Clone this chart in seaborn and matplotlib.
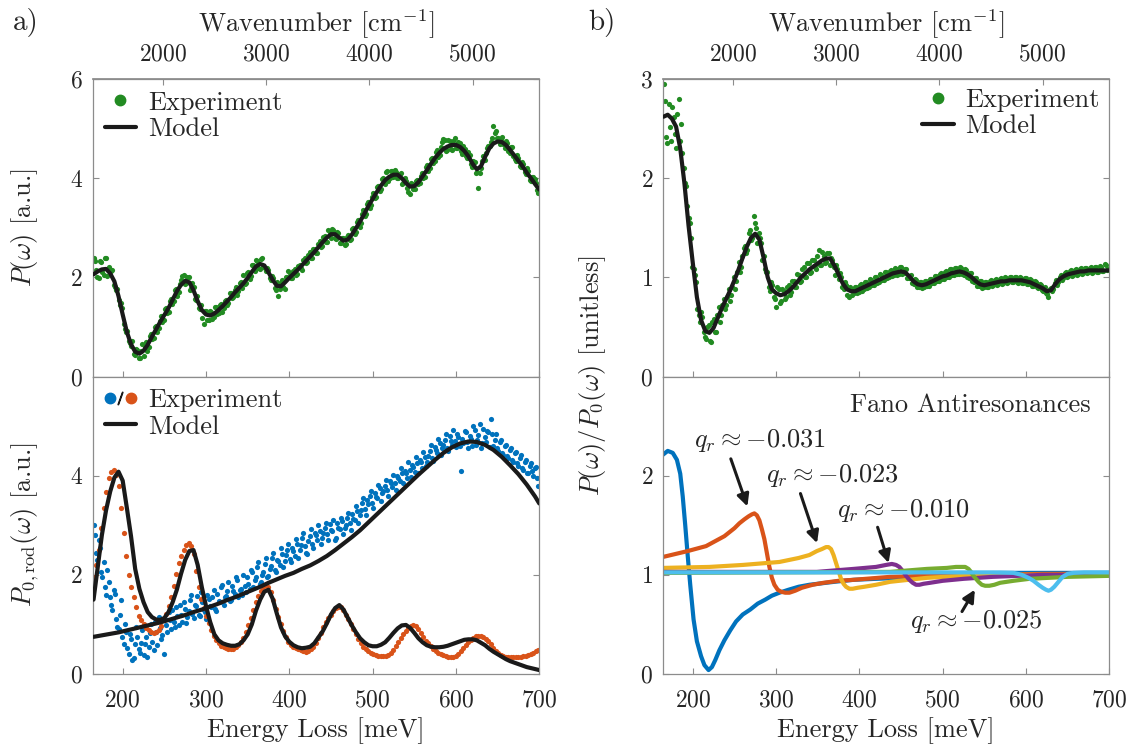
import numpy as np
import matplotlib
matplotlib.use("Agg")
import matplotlib.pyplot as plt
from matplotlib.lines import Line2D
from matplotlib.legend_handler import HandlerTuple
import seaborn as sns

# ---------------- data ----------------
x_exp = np.arange(165, 700, 3)          # energy grid of experimental points, set 1 (meV)
x_exp2 = np.arange(166.5, 700, 3)       # energy grid of experimental points, set 2 (meV)
x_mod = np.arange(165, 701, 5)          # energy grid of model curves (meV)

p_exp = [2.40, 2.15, 1.98, 2.30, 2.05, 2.40, 2.20, 2.12, 1.85, 1.75,
         1.55, 1.48, 1.05, 0.90, 0.72, 0.62, 0.45, 0.55, 0.38, 0.52,
         0.42, 0.70, 0.60, 0.85, 0.78, 1.02, 0.98, 1.22, 1.15, 1.38,
         1.30, 1.56, 1.52, 1.76, 1.70, 1.95, 2.05, 1.88, 2.00, 1.78,
         1.80, 1.55, 1.38, 1.45, 1.05, 1.32, 1.15, 1.30, 1.20, 1.40,
         1.28, 1.47, 1.38, 1.55, 1.48, 1.68, 1.60, 1.80, 1.72, 1.90,
         2.05, 1.88, 2.10, 2.02, 2.25, 2.35, 2.18, 2.38, 2.20, 2.12,
         2.15, 1.95, 1.98, 1.75, 1.62, 1.88, 1.80, 2.00, 2.12, 1.98,
         2.12, 2.05, 2.22, 2.18, 2.35, 2.28, 2.46, 2.40, 2.58, 2.50,
         2.68, 2.62, 2.82, 2.72, 2.95, 2.80, 2.95, 2.78, 2.90, 2.70,
         2.80, 2.68, 2.85, 2.78, 3.00, 2.92, 3.15, 3.10, 3.35, 3.28,
         3.52, 3.45, 3.70, 3.62, 3.85, 3.78, 4.00, 4.12, 3.95, 4.15,
         4.02, 4.12, 4.00, 4.10, 3.90, 3.95, 3.72, 3.90, 3.78, 3.95,
         3.88, 4.05, 4.00, 4.22, 4.15, 4.38, 4.30, 4.52, 4.42, 4.62,
         4.80, 4.55, 4.78, 4.58, 4.75, 4.60, 4.72, 4.55, 4.65, 4.45,
         4.52, 4.28, 4.35, 4.10, 3.80, 4.20, 4.45, 4.50, 4.65, 4.72,
         5.05, 4.95, 4.82, 4.80, 4.68, 4.75, 4.55, 4.62, 4.45, 4.35,
         4.40, 4.22, 4.28, 4.08, 4.15, 3.95, 4.02, 3.90, 3.70]

p_exp2 = [2.33, 2.01, 2.32, 2.11, 2.39, 2.02, 2.14, 2.15, 1.81, 1.77,
          1.45, 1.39, 0.96, 0.92, 0.68, 0.72, 0.43, 0.54, 0.37, 0.65,
          0.60, 0.51, 0.82, 0.76, 0.99, 0.89, 1.12, 1.09, 1.37, 1.28,
          1.53, 1.46, 1.75, 1.63, 1.86, 2.02, 1.87, 2.00, 1.75, 1.89,
          1.57, 1.63, 1.37, 1.18, 1.32, 1.13, 1.33, 1.17, 1.40, 1.27,
          1.44, 1.31, 1.52, 1.45, 1.69, 1.59, 1.75, 1.65, 1.89, 1.79,
          1.86, 2.08, 1.97, 2.24, 2.13, 2.32, 2.17, 2.40, 2.18, 2.19,
          1.98, 2.02, 1.79, 1.91, 1.77, 1.94, 1.77, 2.00, 2.09, 1.98,
          2.16, 2.06, 2.25, 2.15, 2.39, 2.31, 2.51, 2.40, 2.58, 2.49,
          2.74, 2.64, 2.83, 2.72, 2.91, 2.97, 2.79, 2.91, 2.69, 2.80,
          2.66, 2.82, 2.76, 2.97, 2.88, 3.11, 3.02, 3.27, 3.24, 3.48,
          3.40, 3.63, 3.60, 3.83, 3.74, 3.98, 3.89, 4.14, 4.00, 4.14,
          4.17, 4.01, 4.09, 3.89, 4.00, 3.80, 3.69, 3.88, 3.79, 3.97,
          3.90, 4.11, 4.03, 4.27, 4.20, 4.41, 4.34, 4.56, 4.47, 4.72,
          4.78, 4.56, 4.76, 4.57, 4.82, 4.61, 4.71, 4.49, 4.59, 4.40,
          4.46, 4.23, 4.33, 4.13, 4.11, 4.34, 4.36, 4.61, 4.65, 4.82,
          4.91, 4.82, 4.69, 4.83, 4.61, 4.71, 4.51, 4.62, 4.39, 4.46,
          4.25, 4.33, 4.12, 4.20, 3.96, 4.03, 3.99, 3.77]

p_model = [2.06, 2.12, 2.16, 2.17, 2.08, 1.92, 1.62, 1.25, 0.90, 0.65,
           0.50, 0.46, 0.52, 0.64, 0.80, 0.95, 1.10, 1.24, 1.38, 1.55,
           1.72, 1.85, 1.93, 1.90, 1.74, 1.52, 1.34, 1.25, 1.23, 1.27,
           1.34, 1.42, 1.51, 1.60, 1.70, 1.79, 1.88, 1.99, 2.11, 2.22,
           2.27, 2.24, 2.10, 1.95, 1.83, 1.82, 1.90, 1.99, 2.07, 2.15,
           2.24, 2.33, 2.42, 2.51, 2.61, 2.71, 2.80, 2.87, 2.87, 2.80,
           2.74, 2.76, 2.86, 2.99, 3.13, 3.28, 3.44, 3.58, 3.72, 3.85,
           3.96, 4.03, 4.07, 4.07, 4.00, 3.90, 3.83, 3.84, 3.92, 4.04,
           4.16, 4.29, 4.41, 4.51, 4.59, 4.64, 4.67, 4.67, 4.63, 4.55,
           4.44, 4.29, 4.18, 4.24, 4.43, 4.60, 4.70, 4.74, 4.73, 4.67,
           4.57, 4.46, 4.35, 4.24, 4.11, 4.00, 3.88, 3.77]

rod_exp = [3.00, 2.45, 2.70, 2.05, 2.25, 1.60, 1.85, 1.40, 1.70, 1.10,
           0.90, 1.50, 0.60, 0.85, 0.40, 0.70, 0.32, 0.95, 0.50, 0.62,
           0.38, 0.75, 0.55, 1.00, 0.48, 0.85, 1.15, 0.70, 0.40, 0.98,
           1.25, 0.90, 1.05, 1.35, 0.98, 1.20, 1.45, 1.02, 1.28, 1.60,
           1.12, 1.38, 1.20, 1.65, 1.30, 1.10, 1.52, 1.35, 1.70, 1.28,
           1.48, 1.75, 1.40, 1.58, 1.85, 1.50, 1.68, 1.95, 1.55, 1.72,
           2.00, 1.65, 1.82, 2.10, 1.75, 1.95, 2.25, 1.85, 2.05, 2.35,
           1.98, 2.18, 2.45, 2.05, 2.28, 2.55, 2.15, 2.40, 2.62, 2.25,
           2.48, 2.72, 2.35, 2.60, 2.85, 2.45, 2.68, 2.92, 2.55, 2.80,
           3.00, 2.62, 2.85, 3.05, 2.70, 2.90, 3.10, 2.75, 2.95, 3.15,
           2.82, 3.00, 3.25, 2.90, 3.12, 3.38, 3.05, 3.30, 3.55, 3.20,
           3.42, 3.70, 3.35, 3.58, 3.82, 3.48, 3.70, 3.92, 3.60, 3.85,
           4.02, 3.72, 3.95, 4.15, 3.85, 4.05, 4.28, 3.98, 4.18, 4.38,
           4.05, 4.28, 4.48, 4.20, 4.40, 4.62, 4.30, 4.52, 4.75, 4.42,
           4.62, 4.85, 4.50, 4.70, 4.92, 4.58, 4.78, 4.10, 4.65, 4.88,
           4.55, 4.75, 5.00, 4.62, 4.82, 4.55, 4.95, 4.68, 4.88, 5.15,
           4.60, 4.85, 4.50, 4.72, 4.42, 4.62, 4.35, 4.55, 4.28, 4.48,
           4.20, 4.42, 4.12, 4.32, 4.05, 4.25, 4.00, 4.18, 3.80]

rod_exp2 = [2.80, 2.30, 2.55, 1.95, 1.75, 2.10, 1.55, 1.30, 1.62, 0.95,
            1.20, 0.75, 1.00, 0.52, 0.80, 0.28, 0.60, 0.75, 0.42, 0.88,
            0.60, 0.35, 0.82, 0.65, 1.05, 0.58, 0.92, 0.78, 1.10, 0.85,
            1.08, 1.30, 0.95, 1.18, 1.40, 1.05, 1.32, 1.15, 1.50, 1.22,
            1.40, 1.58, 1.18, 1.45, 1.25, 1.60, 1.38, 1.55, 1.32, 1.62,
            1.45, 1.80, 1.55, 1.68, 1.48, 1.78, 1.62, 1.90, 1.70, 1.60,
            1.78, 1.95, 1.72, 2.05, 1.90, 2.15, 1.82, 2.00, 2.22, 1.95,
            2.12, 2.35, 2.10, 2.30, 2.20, 2.42, 2.28, 2.50, 2.32, 2.55,
            2.38, 2.62, 2.50, 2.75, 2.58, 2.42, 2.78, 2.62, 2.85, 2.70,
            2.88, 2.75, 2.95, 2.82, 3.02, 2.88, 2.70, 3.05, 2.92, 3.08,
            2.95, 3.15, 3.05, 3.22, 3.10, 3.28, 3.20, 3.45, 3.32, 3.50,
            3.60, 3.45, 3.65, 3.55, 3.75, 3.65, 3.80, 3.72, 3.90, 3.78,
            3.85, 4.00, 3.90, 4.05, 4.10, 3.95, 4.12, 4.22, 4.08, 4.25,
            4.32, 4.15, 4.38, 4.28, 4.50, 4.35, 4.58, 4.45, 4.65, 4.55,
            4.72, 4.55, 4.80, 4.62, 4.70, 4.85, 4.60, 4.75, 4.90, 4.68,
            4.80, 4.60, 4.92, 4.72, 5.05, 4.65, 4.78, 4.90, 4.58, 4.85,
            4.72, 4.55, 4.68, 4.45, 4.60, 4.40, 4.52, 4.32, 4.45, 4.25,
            4.35, 4.15, 4.28, 4.05, 4.20, 4.10, 4.15, 3.95]

res_exp = [1.95, 2.20, 2.50, 2.95, 3.35, 3.68, 3.95, 4.08, 4.12, 4.02,
           3.80, 3.35, 2.85, 2.38, 2.00, 1.75, 1.55, 1.35, 1.18, 1.08,
           1.00, 0.93, 0.88, 0.84, 0.83, 0.85, 0.89, 0.97, 1.09, 1.22,
           1.38, 1.56, 1.78, 2.02, 2.23, 2.38, 2.51, 2.60, 2.64, 2.58,
           2.42, 2.08, 1.75, 1.52, 1.33, 1.18, 1.02, 0.88, 0.76, 0.68,
           0.62, 0.57, 0.55, 0.53, 0.51, 0.50, 0.51, 0.54, 0.59, 0.65,
           0.72, 0.84, 0.98, 1.12, 1.30, 1.45, 1.58, 1.68, 1.75, 1.79,
           1.75, 1.66, 1.50, 1.32, 1.16, 1.00, 0.86, 0.74, 0.65, 0.59,
           0.54, 0.52, 0.50, 0.48, 0.46, 0.45, 0.46, 0.50, 0.55, 0.62,
           0.72, 0.82, 0.94, 1.04, 1.12, 1.20, 1.28, 1.34, 1.36, 1.35,
           1.30, 1.20, 1.10, 1.00, 0.90, 0.80, 0.70, 0.62, 0.55, 0.50,
           0.46, 0.42, 0.40, 0.38, 0.37, 0.36, 0.36, 0.37, 0.39, 0.42,
           0.48, 0.56, 0.64, 0.72, 0.80, 0.86, 0.92, 0.97, 0.99, 0.97,
           0.91, 0.83, 0.74, 0.67, 0.62, 0.56, 0.50, 0.46, 0.43, 0.40,
           0.38, 0.36, 0.35, 0.34, 0.35, 0.37, 0.41, 0.46, 0.52, 0.58,
           0.64, 0.69, 0.73, 0.76, 0.77, 0.76, 0.74, 0.70, 0.66, 0.60,
           0.53, 0.47, 0.42, 0.38, 0.36, 0.35, 0.34, 0.34, 0.34, 0.34,
           0.34, 0.35, 0.36, 0.37, 0.38, 0.40, 0.43, 0.46, 0.48]

res_model = [1.50, 2.15, 2.80, 3.30, 3.68, 3.96, 4.08, 3.90, 3.35, 2.78,
             2.12, 1.72, 1.45, 1.25, 1.15, 1.10, 1.09, 1.13, 1.25, 1.45,
             1.70, 2.02, 2.30, 2.48, 2.50, 2.20, 1.75, 1.37, 1.05, 0.80,
             0.68, 0.62, 0.59, 0.57, 0.57, 0.60, 0.68, 0.80, 1.00, 1.28,
             1.50, 1.66, 1.70, 1.52, 1.22, 0.94, 0.76, 0.65, 0.58, 0.54,
             0.52, 0.53, 0.55, 0.62, 0.74, 0.86, 1.02, 1.20, 1.33, 1.39,
             1.30, 1.14, 0.98, 0.84, 0.72, 0.64, 0.58, 0.56, 0.56, 0.59,
             0.64, 0.73, 0.83, 0.92, 0.98, 0.99, 0.93, 0.83, 0.72, 0.64,
             0.58, 0.55, 0.54, 0.54, 0.55, 0.57, 0.60, 0.63, 0.66, 0.69,
             0.70, 0.70, 0.68, 0.63, 0.58, 0.51, 0.45, 0.40, 0.35, 0.30,
             0.26, 0.23, 0.20, 0.17, 0.14, 0.12, 0.10, 0.08]

x_rod_model = [165, 175, 185, 195, 205, 215, 225, 235, 245, 255, 265, 275, 285, 295,
               305, 315, 325, 335, 345, 355, 365, 375, 385, 395, 405, 415, 425, 435,
               445, 455, 465, 475, 485, 495, 505, 515, 525, 535, 545, 555, 565, 575,
               585, 595, 605, 615, 625, 635, 645, 655, 665, 675, 685, 695, 700]
rod_model = [0.75, 0.78, 0.81, 0.84, 0.88, 0.92, 0.96, 1.00, 1.04, 1.09, 1.14, 1.19, 1.25, 1.30,
             1.36, 1.42, 1.49, 1.55, 1.62, 1.69, 1.76, 1.84, 1.91, 1.98, 2.04, 2.12, 2.19, 2.28,
             2.38, 2.50, 2.63, 2.76, 2.90, 3.06, 3.22, 3.38, 3.54, 3.70, 3.86, 4.02, 4.17, 4.32,
             4.46, 4.57, 4.65, 4.69, 4.68, 4.62, 4.52, 4.38, 4.21, 4.03, 3.82, 3.58, 3.44]

ratio_exp = [2.95, 2.42, 2.75, 2.38, 2.62, 2.30, 2.80, 2.55, 2.10, 1.92,
             1.60, 1.40, 1.08, 0.95, 0.62, 0.65, 0.45, 0.38, 0.52, 0.35,
             0.58, 0.45, 0.70, 0.62, 0.78, 0.72, 0.88, 0.82, 1.00, 0.96,
             1.15, 1.10, 1.30, 1.25, 1.45, 1.38, 1.62, 1.50, 1.45, 1.35,
             1.22, 1.05, 0.90, 0.95, 0.80, 0.70, 0.88, 0.76, 0.86, 0.80,
             0.92, 0.85, 0.96, 0.90, 1.02, 0.96, 1.10, 1.00, 1.14, 1.05,
             1.18, 1.08, 1.28, 1.12, 1.22, 1.15, 1.25, 1.20, 1.10, 1.12,
             0.98, 1.00, 0.88, 0.92, 0.80, 0.88, 0.84, 0.90, 0.85, 0.93,
             0.88, 0.95, 0.90, 0.97, 0.92, 1.00, 0.95, 1.02, 0.97, 1.05,
             1.00, 1.07, 1.02, 1.08, 1.03, 1.10, 1.04, 1.08, 0.99, 1.02,
             0.93, 0.97, 0.90, 0.95, 0.90, 0.96, 0.91, 0.98, 0.94, 1.01,
             0.96, 1.04, 0.98, 1.06, 1.00, 1.08, 1.02, 1.09, 1.03, 1.09,
             1.02, 1.07, 0.99, 1.04, 0.95, 0.99, 0.91, 0.96, 0.90, 0.95,
             0.90, 0.97, 0.92, 0.98, 0.93, 0.99, 0.94, 0.99, 0.95, 1.00,
             0.95, 1.00, 0.94, 0.99, 0.94, 0.99, 0.93, 0.97, 0.91, 0.95,
             0.89, 0.92, 0.86, 0.84, 0.80, 0.89, 0.88, 0.97, 0.95, 1.02,
             0.99, 1.05, 1.01, 1.07, 1.02, 1.08, 1.03, 1.09, 1.04, 1.09,
             1.05, 1.10, 1.05, 1.10, 1.05, 1.10, 1.06, 1.12, 1.08]

ratio_exp2 = [2.78, 2.35, 2.52, 2.72, 2.45, 2.65, 2.38, 2.25, 1.95, 1.72,
              1.55, 1.10, 1.02, 0.68, 0.55, 0.60, 0.40, 0.50, 0.36, 0.55,
              0.45, 0.62, 0.55, 0.72, 0.68, 0.80, 0.76, 0.90, 0.88, 1.05,
              1.05, 1.22, 1.32, 1.28, 1.48, 1.40, 1.55, 1.35, 1.40, 1.18,
              1.08, 1.05, 0.86, 0.92, 0.78, 0.90, 0.74, 0.88, 0.78, 0.90,
              0.82, 0.96, 0.90, 1.03, 0.95, 1.08, 1.00, 1.14, 1.04, 1.18,
              1.10, 1.22, 1.12, 1.26, 1.14, 1.25, 1.12, 1.18, 1.02, 1.08,
              1.04, 0.90, 0.95, 0.82, 0.90, 0.82, 0.90, 0.84, 0.92, 0.86,
              0.95, 0.89, 0.98, 0.92, 1.00, 0.94, 1.03, 0.97, 1.05, 0.99,
              1.06, 1.01, 1.09, 1.02, 1.10, 1.03, 1.08, 0.99, 1.01, 0.94,
              0.98, 0.90, 0.95, 0.89, 0.96, 0.91, 0.98, 0.94, 1.01, 0.96,
              1.03, 0.98, 1.05, 1.00, 1.08, 1.02, 1.09, 1.03, 1.10, 1.03,
              1.08, 1.00, 1.04, 0.96, 0.99, 0.91, 0.96, 0.89, 0.95, 0.90,
              0.96, 0.91, 0.97, 0.92, 0.98, 0.93, 1.00, 0.94, 1.00, 0.95,
              1.00, 0.95, 1.00, 0.94, 0.99, 0.93, 0.98, 0.91, 0.96, 0.90,
              0.93, 0.87, 0.90, 0.83, 0.88, 0.86, 0.94, 0.92, 1.00, 0.97,
              1.04, 1.00, 1.06, 1.01, 1.07, 1.02, 1.08, 1.03, 1.09, 1.04,
              1.09, 1.04, 1.10, 1.05, 1.11, 1.06, 1.13, 1.07]

ratio_model = [2.62, 2.64, 2.60, 2.52, 2.30, 1.95, 1.52, 1.15, 0.80, 0.57,
               0.46, 0.44, 0.49, 0.59, 0.69, 0.78, 0.87, 0.97, 1.08, 1.20,
               1.31, 1.40, 1.44, 1.38, 1.20, 1.00, 0.88, 0.84, 0.82, 0.83,
               0.86, 0.90, 0.95, 1.00, 1.04, 1.08, 1.11, 1.14, 1.17, 1.19,
               1.19, 1.12, 1.03, 0.94, 0.88, 0.86, 0.86, 0.88, 0.90, 0.92,
               0.94, 0.96, 0.98, 1.00, 1.02, 1.04, 1.05, 1.06, 1.05, 1.01,
               0.96, 0.93, 0.92, 0.93, 0.95, 0.97, 0.99, 1.01, 1.02, 1.04,
               1.05, 1.06, 1.05, 1.03, 1.00, 0.96, 0.93, 0.92, 0.93, 0.94,
               0.95, 0.96, 0.96, 0.97, 0.97, 0.97, 0.97, 0.96, 0.95, 0.93,
               0.91, 0.89, 0.86, 0.87, 0.93, 0.98, 1.01, 1.03, 1.04, 1.05,
               1.06, 1.06, 1.07, 1.07, 1.07, 1.07, 1.07, 1.07]

# Fano antiresonance curves (energy, value)
fano1_x = [164, 170, 176, 181, 185, 188, 191, 194, 197, 201, 205, 210, 214, 219, 223, 227,
           232, 238, 245, 252, 260, 269, 278, 287, 295, 304, 315, 327, 340, 350, 370, 393,
           420, 450, 481, 525, 569, 620, 700]
fano1_y = [2.21, 2.25, 2.23, 2.16, 2.02, 1.79, 1.50, 1.19, 0.90, 0.55, 0.33, 0.18, 0.09, 0.04,
           0.07, 0.14, 0.24, 0.34, 0.44, 0.53, 0.60, 0.65, 0.71, 0.75, 0.79, 0.82, 0.85, 0.88,
           0.90, 0.91, 0.93, 0.95, 0.96, 0.97, 0.99, 1.01, 1.02, 1.02, 1.02]
fano2_x = [164, 194, 216, 238, 250, 256, 262, 267, 271, 274, 277, 280, 283, 286, 289, 292,
           295, 298, 302, 306, 311, 316, 323, 331, 344, 357, 375, 393, 437, 481, 550, 620, 700]
fano2_y = [1.18, 1.24, 1.29, 1.39, 1.47, 1.52, 1.56, 1.59, 1.61, 1.62, 1.60, 1.55, 1.46, 1.36,
           1.22, 1.08, 0.97, 0.90, 0.85, 0.83, 0.82, 0.82, 0.84, 0.87, 0.90, 0.92, 0.94, 0.95,
           0.98, 0.99, 1.00, 1.01, 1.01]
fano3_x = [164, 220, 260, 304, 327, 340, 349, 355, 360, 363, 366, 369, 372, 375, 378, 381,
           384, 388, 392, 398, 406, 420, 437, 481, 525, 600, 700]
fano3_y = [1.07, 1.08, 1.10, 1.13, 1.17, 1.20, 1.24, 1.26, 1.28, 1.28, 1.26, 1.20, 1.12, 1.04,
           0.96, 0.91, 0.88, 0.86, 0.86, 0.87, 0.88, 0.90, 0.93, 0.97, 0.99, 1.00, 1.00]
fano4_x = [164, 300, 349, 393, 420, 432, 439, 444, 448, 452, 456, 460, 464, 468, 472, 477,
           485, 500, 525, 560, 620, 700]
fano4_y = [1.03, 1.03, 1.03, 1.06, 1.08, 1.10, 1.11, 1.10, 1.08, 1.04, 0.99, 0.95, 0.92, 0.90,
           0.90, 0.91, 0.92, 0.94, 0.96, 0.98, 1.00, 1.00]
fano5_x = [164, 437, 481, 505, 516, 522, 527, 531, 534, 537, 540, 543, 547, 551, 556, 562,
           569, 585, 604, 650, 700]
fano5_y = [1.02, 1.03, 1.06, 1.07, 1.08, 1.08, 1.08, 1.06, 1.03, 0.99, 0.96, 0.93, 0.90, 0.89,
           0.89, 0.90, 0.92, 0.94, 0.96, 0.98, 0.99]
fano6_x = [164, 560, 585, 595, 603, 609, 615, 620, 624, 627, 630, 634, 638, 644, 650, 657,
           670, 700]
fano6_y = [1.025, 1.025, 1.02, 1.00, 0.97, 0.94, 0.90, 0.87, 0.85, 0.84, 0.85, 0.88, 0.92,
           0.98, 1.01, 1.02, 1.025, 1.025]

q_labels = [r"$q_r\approx{-}0.031$", r"$q_r\approx{-}0.023$", r"$q_r\approx{-}0.010$",
            r"$q_r\approx{-}0.025$"]

energy_ticks = [200, 300, 400, 500, 600, 700]
wavenumber_ticks = [2000, 3000, 4000, 5000]
MEV_TO_WN = 8.0655

# ---------------- style ----------------
sns.set_theme(style="ticks")
plt.rcParams.update({
    "font.family": "cmr10",
    "mathtext.fontset": "cm",
    "axes.formatter.use_mathtext": True,
    "axes.unicode_minus": False,
})

C_GREEN = "#228B22"
C_BLUE = "#0072BD"
C_ORANGE = "#D95319"
C_YELLOW = "#EDB120"
C_PURPLE = "#7E2F8E"
C_LGREEN = "#77AC30"
C_LBLUE = "#4DBEEE"
SPINE = "#8c8c8c"
TXT = "#262626"

fig = plt.figure(figsize=(11.36, 7.49), dpi=100)
W, H = 0.3931, 0.3972
ax_tl = fig.add_axes([0.0816, 0.4973, W, H])
ax_bl = fig.add_axes([0.0816, 0.1001, W, H])
ax_tr = fig.add_axes([0.5834, 0.4973, W, H])
ax_br = fig.add_axes([0.5834, 0.1001, W, H])


def style(ax, ylim, yticks, bottom_labels):
    ax.set_xlim(164, 700)
    ax.set_ylim(*ylim)
    ax.set_xticks(energy_ticks)
    ax.set_yticks(yticks)
    ax.tick_params(axis="both", direction="in", length=4, width=0.8, color=SPINE,
                   labelsize=17, labelcolor=TXT, top=False, right=True)
    ax.tick_params(axis="x", pad=11)
    ax.tick_params(axis="y", pad=7)
    if not bottom_labels:
        ax.tick_params(labelbottom=False)
    for s in ax.spines.values():
        s.set_color(SPINE)
        s.set_linewidth(0.9)
    ax.set_xlabel("")
    ax.set_ylabel("")


def top_axis(ax):
    sec = ax.secondary_xaxis("top", functions=(lambda e: e * MEV_TO_WN, lambda w: w / MEV_TO_WN))
    sec.set_xticks(wavenumber_ticks)
    sec.tick_params(direction="in", length=4, width=0.8, color=SPINE, labelsize=17,
                    labelcolor=TXT, pad=10)
    sec.spines["top"].set_color(SPINE)
    sec.set_xlabel(r"Wavenumber [cm$^{-1}$]", fontsize=19, color=TXT, labelpad=8)


def dots(ax, x, y, c):
    sns.scatterplot(x=x, y=y, ax=ax, color=c, s=14, linewidth=0, legend=False, zorder=2)


def curve(ax, x, y, c, z=3):
    sns.lineplot(x=x, y=y, ax=ax, color=c, linewidth=3, sort=False, estimator=None,
                 legend=False, zorder=z)


# ---- panel a, top ----
dots(ax_tl, x_exp, p_exp, C_GREEN)
dots(ax_tl, x_exp2, p_exp2, C_GREEN)
curve(ax_tl, x_mod, p_model, "k")
style(ax_tl, (0, 6), [0, 2, 4, 6], False)
top_axis(ax_tl)

leg_handles = [Line2D([], [], marker="o", ls="none", color=C_GREEN, markersize=7.5),
               Line2D([], [], color="k", lw=3)]
ax_tl.legend(leg_handles, ["Experiment", "Model"], loc="upper left", frameon=False, fontsize=19,
             handlelength=1.2, handletextpad=0.45, borderaxespad=0.05, borderpad=0.4,
             labelspacing=0.1, labelcolor=TXT)

# ---- panel a, bottom ----
dots(ax_bl, x_exp, rod_exp, C_BLUE)
dots(ax_bl, x_exp2, rod_exp2, C_BLUE)
dots(ax_bl, x_exp, res_exp, C_ORANGE)
curve(ax_bl, x_rod_model, rod_model, "k")
curve(ax_bl, x_mod, res_model, "k")
style(ax_bl, (0, 6), [0, 2, 4], True)
ax_bl.set_xlabel("Energy Loss [meV]", fontsize=19, color=TXT, labelpad=4)

h_blue = Line2D([], [], marker="o", ls="none", color=C_BLUE, markersize=7.5)
h_slash = Line2D([], [], marker="$/$", ls="none", color="k", markersize=9)
h_orange = Line2D([], [], marker="o", ls="none", color=C_ORANGE, markersize=7.5)
ax_bl.legend([(h_blue, h_slash, h_orange), Line2D([], [], color="k", lw=3)],
             ["Experiment", "Model"], handler_map={tuple: HandlerTuple(ndivide=None, pad=0)},
             loc="upper left", frameon=False, fontsize=19, handlelength=1.2, handletextpad=0.45,
             borderaxespad=0.05, borderpad=0.4, labelspacing=0.1, labelcolor=TXT)

# ---- panel b, top ----
dots(ax_tr, x_exp, ratio_exp, C_GREEN)
dots(ax_tr, x_exp2, ratio_exp2, C_GREEN)
curve(ax_tr, x_mod, ratio_model, "k")
style(ax_tr, (0, 3), [0, 1, 2, 3], False)
top_axis(ax_tr)
ax_tr.legend(leg_handles, ["Experiment", "Model"], loc="upper right", frameon=False, fontsize=19,
             handlelength=1.2, handletextpad=0.45, borderaxespad=0.0, borderpad=0.35,
             labelspacing=0.1, labelcolor=TXT)

# ---- panel b, bottom ----
for fx, fy, c in [(fano1_x, fano1_y, C_BLUE), (fano2_x, fano2_y, C_ORANGE),
                  (fano3_x, fano3_y, C_YELLOW), (fano4_x, fano4_y, C_PURPLE),
                  (fano5_x, fano5_y, C_LGREEN), (fano6_x, fano6_y, C_LBLUE)]:
    curve(ax_br, fx, fy, c, z=2)
style(ax_br, (0, 3), [0, 1, 2], True)
ax_br.set_xlabel("Energy Loss [meV]", fontsize=19, color=TXT, labelpad=4)

ax_br.text(677.5, 2.71, "Fano Antiresonances", fontsize=19, color=TXT, ha="right", va="center")
arrow = dict(arrowstyle="-|>", color="k", lw=2.2, mutation_scale=18, shrinkA=0, shrinkB=0)
label_pos = [(201.6, 2.35), (287.5, 2.00), (373.5, 1.65), (460.6, 0.53)]
arrow_from = [(245.7, 2.17), (329.3, 1.82), (421.9, 1.48), (523.2, 0.63)]
arrow_to = [(265.6, 1.69), (349.2, 1.32), (435.1, 1.12), (538.6, 0.85)]
for lab, lp, af, at in zip(q_labels, label_pos, arrow_from, arrow_to):
    ax_br.text(lp[0], lp[1], lab, fontsize=19, color=TXT, ha="left", va="center")
    ax_br.annotate("", xy=at, xytext=af, arrowprops=arrow)

# ---- labels ----
fig.text(0.022, 0.696, r"$P(\omega)$ [a.u.]", rotation=90, ha="center", va="center", fontsize=19, color=TXT)
fig.text(0.022, 0.299, r"$P_{0,\mathrm{rod}}(\omega)$ [a.u.]", rotation=90, ha="center", va="center",
         fontsize=19, color=TXT)
fig.text(0.522, 0.498, r"$P(\omega)/P_0(\omega)$ [unitless]", rotation=90, ha="center", va="center",
         fontsize=19, color=TXT)
fig.text(0.0229, 0.9706, "a)", ha="center", va="center", fontsize=21, color=TXT)
fig.text(0.530, 0.9706, "b)", ha="center", va="center", fontsize=21, color=TXT)

fig.savefig("out.png", dpi=100)
